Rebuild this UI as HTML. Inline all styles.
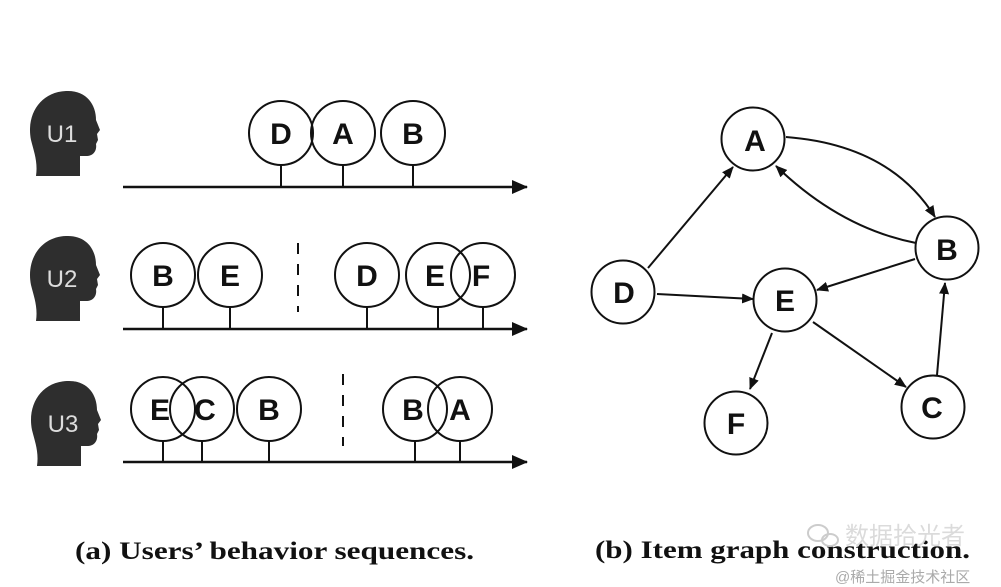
<!DOCTYPE html>
<html><head><meta charset="utf-8"><style>
html,body{margin:0;padding:0;background:#fff;}
svg{display:block;}
</style></head><body>
<svg width="1001" height="587" viewBox="0 0 1001 587" xmlns="http://www.w3.org/2000/svg">
<defs>
<marker id="ar" markerWidth="12" markerHeight="10" refX="11" refY="5" orient="auto" markerUnits="userSpaceOnUse">
<path d="M0,0 L12,5 L0,10 Z" fill="#111"/>
</marker>
<marker id="ax" markerWidth="16" markerHeight="14" refX="15" refY="7" orient="auto" markerUnits="userSpaceOnUse">
<path d="M0,0 L16,7 L0,14 Z" fill="#111"/>
</marker>
<g id="head"><path d="M8,86 C10,72 6,62 3,50 C-2,25 12,2 38,1 C58,0 68,14 68,30 L72,40 L69,44 L70,50 L68,54 C69,60 66,66 58,66 L52,66 L52,86 Z" fill="#2e2e2e"/></g>
</defs>
<rect width="1001" height="587" fill="#fff"/>
<g font-family="Liberation Sans, sans-serif">
<use href="#head" x="28" y="90"/>
<text x="62" y="142" font-size="24" fill="#ddd" text-anchor="middle">U1</text>
<use href="#head" x="28" y="235"/>
<text x="62" y="287" font-size="24" fill="#ddd" text-anchor="middle">U2</text>
<use href="#head" x="29" y="380"/>
<text x="63" y="432" font-size="24" fill="#ddd" text-anchor="middle">U3</text>
</g>
<g stroke="#111" stroke-width="2.5" fill="none">
<line x1="123" y1="187" x2="527" y2="187" marker-end="url(#ax)"/>
<line x1="123" y1="329" x2="527" y2="329" marker-end="url(#ax)"/>
<line x1="123" y1="462" x2="527" y2="462" marker-end="url(#ax)"/>
</g>
<g stroke="#111" stroke-width="2" fill="none">
<line x1="298" y1="243" x2="298" y2="312" stroke-dasharray="11,10"/>
<line x1="343" y1="374" x2="343" y2="446" stroke-dasharray="11,10"/>
<path d="M281,165V187 M343,165V187 M413,165V187"/>
<path d="M163,307V329 M230,307V329 M367,307V329 M438,307V329 M483,307V329"/>
<path d="M163,441V462 M202,441V462 M269,441V462 M415,441V462 M460,441V462"/>
<circle cx="281" cy="133" r="32"/><circle cx="343" cy="133" r="32"/><circle cx="413" cy="133" r="32"/>
<circle cx="163" cy="275" r="32"/><circle cx="230" cy="275" r="32"/><circle cx="367" cy="275" r="32"/><circle cx="438" cy="275" r="32"/><circle cx="483" cy="275" r="32"/>
<circle cx="269" cy="409" r="32"/><circle cx="415" cy="409" r="32"/><circle cx="460" cy="409" r="32"/>
</g>
<g font-family="Liberation Sans, sans-serif" font-weight="bold" font-size="30" fill="#111" text-anchor="middle">
<text x="281" y="144">D</text><text x="343" y="144">A</text><text x="413" y="144">B</text>
<text x="163" y="286">B</text><text x="230" y="286">E</text><text x="367" y="286">D</text><text x="435" y="286">E</text><text x="481" y="286">F</text>
<text x="160" y="420">E</text>
</g>
<circle cx="202" cy="409" r="32" fill="#fff" stroke="none"/>
<g stroke="#111" stroke-width="2" fill="none">
<circle cx="163" cy="409" r="32"/><circle cx="202" cy="409" r="32"/>
</g>
<g font-family="Liberation Sans, sans-serif" font-weight="bold" font-size="30" fill="#111" text-anchor="middle">
<text x="205" y="420">C</text><text x="269" y="420">B</text><text x="413" y="420">B</text><text x="460" y="420">A</text>
</g>
<g stroke="#111" stroke-width="2" fill="none">
<circle cx="753" cy="139" r="31.5"/>
<circle cx="947" cy="248" r="31.5"/>
<circle cx="623" cy="292" r="31.5"/>
<circle cx="785" cy="300" r="31.5"/>
<circle cx="736" cy="423" r="31.5"/>
<circle cx="933" cy="407" r="31.5"/>
<path d="M786,137 Q890,145 935,217" marker-end="url(#ar)"/>
<path d="M916,243 Q840,228 776,166" marker-end="url(#ar)"/>
<path d="M648,268 L733,167" marker-end="url(#ar)"/>
<path d="M657,294 L753,299" marker-end="url(#ar)"/>
<path d="M915,259 L817,290" marker-end="url(#ar)"/>
<path d="M772,333 L750,389" marker-end="url(#ar)"/>
<path d="M813,322 L906,387" marker-end="url(#ar)"/>
<path d="M937,375 L945,283" marker-end="url(#ar)"/>
</g>
<g font-family="Liberation Sans, sans-serif" font-weight="bold" font-size="30" fill="#111" text-anchor="middle">
<text x="755" y="151">A</text><text x="947" y="260">B</text><text x="624" y="303">D</text><text x="785" y="311">E</text><text x="736" y="434">F</text><text x="932" y="418">C</text>
</g>
<g font-family="Liberation Serif, serif" font-weight="bold" font-size="25" fill="#111">
<text x="75" y="559" textLength="399" lengthAdjust="spacingAndGlyphs">(a) Users’ behavior sequences.</text>
<text x="595" y="558" textLength="375" lengthAdjust="spacingAndGlyphs">(b) Item graph construction.</text>
</g>
<g font-family="Liberation Sans, 'Noto Sans CJK SC', sans-serif" fill="#bbb">
<text x="845" y="544" font-size="24" fill="#d8d8d8" opacity="0.9">数据拾光者</text>
<ellipse cx="818" cy="533" rx="10" ry="8" fill="none" stroke="#ccc" stroke-width="2"/>
<ellipse cx="830" cy="540" rx="8" ry="6" fill="none" stroke="#ccc" stroke-width="2"/>
<text x="835" y="582" font-size="15" fill="#aaa">@稀土掘金技术社区</text>
</g>
</svg>
</body></html>
